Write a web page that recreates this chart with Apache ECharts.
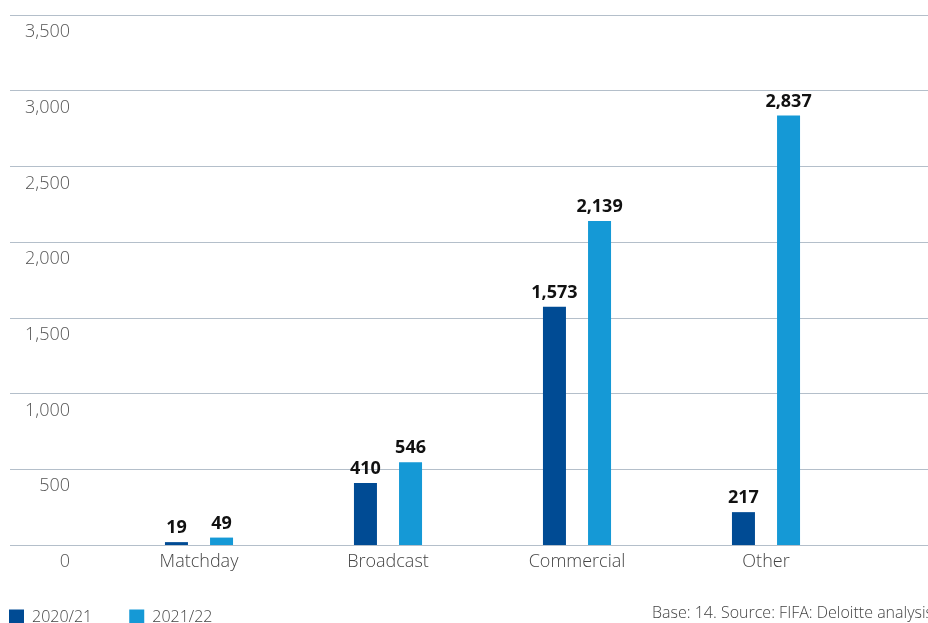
<!DOCTYPE html>
<html>
<head>
<meta charset="utf-8">
<style>html,body{margin:0;padding:0;background:#fff;}#c{width:928px;height:623px;}</style>
<script src="https://cdn.jsdelivr.net/npm/echarts@6/dist/echarts.min.js"></script>
</head>
<body>
<div id="c"></div>
<script>
const categories = ['Matchday', 'Broadcast', 'Commercial', 'Other'];
const series2021 = [19, 410, 1573, 217];
const series2122 = [49, 546, 2139, 2837];
const seriesNames = ['2020/21', '2021/22'];
const sourceText = 'Base: 14. Source: FIFA: Deloitte analysis';

const FONT = '"Open Sans", "Noto Sans", sans-serif';
const chart = echarts.init(document.getElementById('c'), null, {renderer: 'canvas'});
const labelStyle = {show: true, position: 'top', distance: 5, color: '#111', fontWeight: 'bold', fontSize: 18, fontFamily: FONT,
  formatter: p => p.value.toLocaleString('en-US')};
chart.setOption({
  animation: false,
  textStyle: {fontFamily: FONT},
  legend: {
    left: 4, top: 604, itemWidth: 15, itemHeight: 15, itemGap: 37,
    icon: 'rect',
    textStyle: {fontSize: 16, color: '#444', fontWeight: 300, fontFamily: FONT, padding: [0, 0, 0, 3]},
    data: seriesNames
  },
  graphic: [{type: 'text', left: 652, top: 605, style: {text: sourceText, fontSize: 16, fontWeight: 300, fill: '#444', fontFamily: FONT}}],
  grid: [
    {left: 10, right: 0, top: 15, bottom: 78, outerBoundsMode: 'none', containLabel: false},
    {left: 104.5, right: 67.5, top: 15, bottom: 78, outerBoundsMode: 'none', containLabel: false}
  ],
  xAxis: [
    {type: 'category', gridIndex: 0, data: [''], show: false},
    {type: 'category', gridIndex: 1, data: categories,
      axisLine: {show: false}, axisTick: {show: false},
      axisLabel: {color: '#444', fontSize: 18, fontWeight: 300, margin: 8, fontFamily: FONT}}
  ],
  yAxis: [
    {type: 'value', gridIndex: 0, min: 0, max: 3500, interval: 500,
      axisLine: {show: false}, axisTick: {show: false},
      splitLine: {lineStyle: {color: '#b4bfca', width: 1}},
      axisLabel: {inside: true, align: 'right', verticalAlign: 'top', margin: 60, color: '#555', fontSize: 18, fontWeight: 300, fontFamily: FONT,
        formatter: v => v.toLocaleString('en-US'), padding: [8, 0, 0, 0]}},
    {type: 'value', gridIndex: 1, min: 0, max: 3500, interval: 500, show: false}
  ],
  series: [
    {name: seriesNames[0], type: 'bar', xAxisIndex: 1, yAxisIndex: 1, data: series2021, barWidth: 23, barGap: '96%',
      itemStyle: {color: '#004b94'}, label: labelStyle},
    {name: seriesNames[1], type: 'bar', xAxisIndex: 1, yAxisIndex: 1, data: series2122, barWidth: 23, barGap: '96%',
      itemStyle: {color: '#1599d6'}, label: labelStyle}
  ]
});
</script>
</body>
</html>
